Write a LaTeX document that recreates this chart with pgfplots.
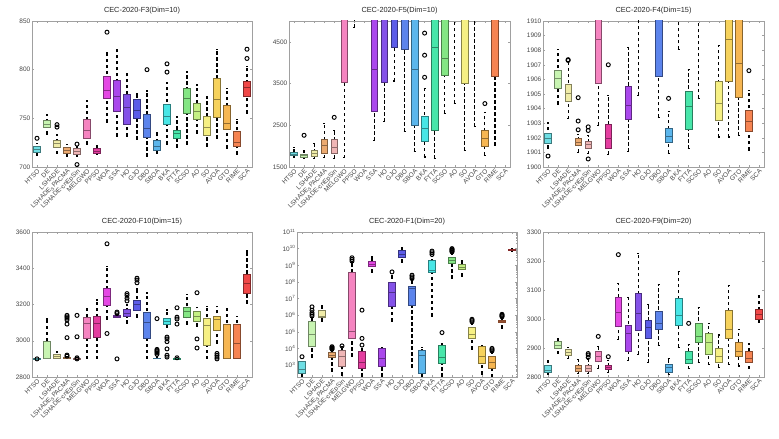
\documentclass[border=0pt]{standalone}
\usepackage{pgfplots}
\pgfplotsset{compat=1.18}
\usepackage{fontspec}
\setmainfont{Liberation Sans}
\definecolor{c1}{RGB}{110,222,228}
\definecolor{c2}{RGB}{200,244,178}
\definecolor{c3}{RGB}{240,236,168}
\definecolor{c4}{RGB}{236,170,112}
\definecolor{c5}{RGB}{240,182,182}
\definecolor{c6}{RGB}{245,132,192}
\definecolor{c7}{RGB}{228,62,160}
\definecolor{c8}{RGB}{228,72,228}
\definecolor{c9}{RGB}{170,72,236}
\definecolor{c10}{RGB}{132,82,232}
\definecolor{c11}{RGB}{92,92,232}
\definecolor{c12}{RGB}{92,132,236}
\definecolor{c13}{RGB}{92,182,236}
\definecolor{c14}{RGB}{72,230,230}
\definecolor{c15}{RGB}{72,230,170}
\definecolor{c16}{RGB}{132,230,132}
\definecolor{c17}{RGB}{196,240,132}
\definecolor{c18}{RGB}{246,240,132}
\definecolor{c19}{RGB}{246,210,92}
\definecolor{c20}{RGB}{246,182,82}
\definecolor{c21}{RGB}{246,132,82}
\definecolor{c22}{RGB}{240,72,72}
\definecolor{labgray}{RGB}{70,70,70}
\definecolor{axgray}{RGB}{160,160,160}
\newcommand{\tfont}{\fontsize{6.5}{7.5}\selectfont}
% \bx{position}{lower whisker}{lower quartile}{median}{upper quartile}{upper whisker}{colour}{outliers}
\newcommand{\bx}[8]{%
 \pgfmathsetmacro\xl{#1-0.33}\pgfmathsetmacro\xr{#1+0.33}%
 \pgfmathsetmacro\cl{#1-0.1}\pgfmathsetmacro\cr{#1+0.1}%
 \addplot[black, line width=1.2bp, dash pattern=on 3.3bp off 2.7bp, unbounded coords=jump]
   coordinates {(\cl,#2)(\cr,#2)(#1,nan)(#1,#2)(#1,#6)(#1,nan)(\cl,#6)(\cr,#6)};
 \addplot[draw=#7!55!black, fill=#7, line width=0.6bp]
   coordinates {(\xl,#3)(\xr,#3)(\xr,#5)(\xl,#5)} --cycle;
 \addplot[draw=#7!60!black, line width=0.5bp] coordinates {(\xl,#4)(\xr,#4)};
 \def\ol{}%
 \if\relax\detokenize{#8}\relax\else
   \foreach \v in {#8}{\xdef\ol{\ol(#1,\v)}}%
   \edef\tmp{\noexpand\addplot[only marks, mark=o, mark size=2bp, mark options={draw=black, fill=white, line width=0.95bp}] coordinates {\ol};}\tmp
 \fi}
\def\minorlist{}
\foreach \d in {2,...,10}{\foreach \f in {0.30103,0.47712,0.60206,0.69897,0.77815,0.84510,0.90309,0.95424}{\pgfmathsetmacro\v{\d+\f}\xdef\minorlist{\minorlist\v,}}}
\xdef\minorlist{\minorlist 11}
\pgfplotsset{panel/.style={scale only axis, anchor=south west,
 xmin=0.5, xmax=22.5, xtick={1,...,22},
 xticklabels={HTSO,DE,LSHADE,LSHADE\textsubscript{S}PACMA,LSHADE-cnEpSin,MELGWO,PPSO,WOA,SSA,HO,GJO,DBO,SBOA,BKA,FTTA,SCSO,AO,SO,AVOA,GTO,RIME,SCA},
 x tick label style={rotate=45, anchor=north east, font=\tfont, text=labgray, inner sep=1bp},
 y tick label style={font=\tfont, text=labgray, inner sep=1.5bp},
 tick align=inside, major tick length=2bp, minor tick length=1.2bp,
 axis line style={axgray, line width=0.5bp}, tick style={axgray, line width=0.4bp},
 title style={font=\fontsize{7.4}{8.5}\selectfont, text=black!85, yshift=-2.5bp},
 /pgf/number format/assume math mode=true,
 /pgf/number format/set thousands separator={},
 scaled y ticks=false}}
\begin{document}
\begin{tikzpicture}
\path[use as bounding box] (0,0) rectangle (779bp,439bp);
% Panel 1
\begin{axis}[panel, at={(32bp,272bp)}, width=220bp, height=146bp,
 ymin=700, ymax=850, ytick={700,750,800,850}, title={CEC-2020-F3(Dim=10)}]
\bx{1}{712}{715}{718}{721}{724}{c1}{729.5}
\bx{2}{734}{741}{744}{747.5}{754}{c2}{}
\bx{3}{713.5}{720}{724}{727}{733}{c3}{741,743.5}
\bx{4}{711}{714}{717}{720}{723.5}{c4}{}
\bx{5}{711}{713.5}{716}{719}{720.5}{c5}{723.5,702.5}
\bx{6}{723.5}{729.5}{737.5}{749}{768.5}{c6}{}
\bx{7}{712.5}{714.5}{716.5}{719}{721.5}{c7}{}
\bx{8}{746}{771}{779}{793.5}{818}{c8}{838.5}
\bx{9}{731.5}{757}{772.5}{789.5}{821}{c9}{}
\bx{10}{731.5}{744}{761}{775}{796}{c10}{}
\bx{11}{728}{750.5}{758.5}{769.5}{775.5}{c11}{}
\bx{12}{710.5}{731}{740}{754.5}{778.5}{c12}{800}
\bx{13}{713.5}{717}{721}{727}{735.5}{c13}{}
\bx{14}{723.5}{743.5}{752}{764.5}{787}{c14}{797.5,806}
\bx{15}{720}{729}{735}{738}{751.5}{c15}{}
\bx{16}{723}{755}{771}{781}{797.5}{c16}{}
\bx{17}{735}{748.5}{757}{765.5}{784.5}{c17}{}
\bx{18}{721}{732.5}{741}{752.5}{772}{c18}{}
\bx{19}{729}{751}{769.5}{791}{821}{c19}{}
\bx{20}{719.5}{739}{744.5}{763}{781}{c20}{}
\bx{21}{713}{721.5}{725.5}{737}{749}{c21}{}
\bx{22}{755}{772.5}{781.5}{788}{803}{c22}{811.5,821}
\end{axis}
% Panel 2
\begin{axis}[panel, at={(289bp,272bp)}, width=221bp, height=146bp,
 ymin=1500, ymax=5000, ytick={1500,2500,3500,4500}, title={CEC-2020-F5(Dim=10)}]
\bx{1}{1720}{1770}{1810}{1860}{1960}{c1}{}
\bx{2}{1700}{1740}{1780}{1810}{1900}{c2}{2260}
\bx{3}{1700}{1760}{1830}{1910}{2060}{c3}{}
\bx{4}{1720}{1840}{2030}{2170}{2550}{c4}{}
\bx{5}{1700}{1820}{1970}{2170}{2380}{c5}{2690}
\bx{6}{1720}{3530}{5600}{6500}{7000}{c6}{}
\bx{7}{4850}{5600}{6000}{6500}{7000}{c7}{}
\bx{8}{5500}{6000}{6500}{7000}{7500}{c8}{}
\bx{9}{2130}{2840}{3840}{5600}{6000}{c9}{}
\bx{10}{2590}{3520}{5200}{5600}{6000}{c10}{}
\bx{11}{3560}{4370}{5300}{5600}{6000}{c11}{}
\bx{12}{2350}{4320}{5300}{5600}{6000}{c12}{}
\bx{13}{1870}{2500}{3840}{5600}{6000}{c13}{}
\bx{14}{1740}{2110}{2420}{2710}{3390}{c14}{3650,4180,4710}
\bx{15}{1700}{2370}{4380}{5600}{6000}{c15}{}
\bx{16}{2790}{3710}{4110}{5600}{6000}{c16}{}
\bx{17}{3030}{5200}{5400}{5600}{6000}{c17}{}
\bx{18}{1890}{3500}{5200}{5600}{6000}{c18}{}
\bx{19}{2470}{5200}{5400}{5600}{6000}{c19}{}
\bx{20}{1780}{1990}{2200}{2370}{2810}{c20}{3020}
\bx{21}{2010}{3680}{5200}{5600}{6000}{c21}{}
\bx{22}{5500}{6000}{6500}{7000}{7500}{c22}{}
\end{axis}
% Panel 3
\begin{axis}[panel, at={(543bp,272bp)}, width=221bp, height=146bp,
 ymin=1900, ymax=1910, ytick={1900,1901,...,1910}, title={CEC-2020-F4(Dim=15)}]
\bx{1}{1901.3}{1901.65}{1902.0}{1902.3}{1903.05}{c1}{1900.75}
\bx{2}{1904.3}{1905.4}{1906.05}{1906.65}{1908.05}{c2}{}
\bx{3}{1903.3}{1904.5}{1905.05}{1905.65}{1907.2}{c3}{1907.3,1907.35}
\bx{4}{1901.0}{1901.5}{1901.7}{1901.95}{1902.2}{c4}{1902.55,1903.15,1904.75}
\bx{5}{1900.9}{1901.3}{1901.55}{1901.75}{1902.15}{c5}{1902.5,1902.75,1900.55}
\bx{6}{1902.85}{1905.75}{1908.75}{1911}{1912}{c6}{}
\bx{7}{1900.85}{1901.3}{1902.0}{1902.9}{1904.9}{c7}{1907.0}
\bx{8}{1911}{1912}{1913}{1914}{1915}{c8}{}
\bx{9}{1901.05}{1903.3}{1904.25}{1905.55}{1908.2}{c9}{}
\bx{10}{1904.9}{1911}{1912}{1913}{1914}{c10}{}
\bx{11}{1911}{1912}{1913}{1914}{1915}{c11}{}
\bx{12}{1903.4}{1906.2}{1911}{1912}{1913}{c12}{}
\bx{13}{1900.95}{1901.7}{1902.1}{1902.65}{1903.8}{c13}{1904.7}
\bx{14}{1908.05}{1911}{1912}{1913}{1914}{c14}{}
\bx{15}{1901.25}{1902.55}{1904.15}{1905.2}{1906.7}{c15}{}
\bx{16}{1904.7}{1911}{1912}{1913}{1914}{c16}{}
\bx{17}{1911}{1912}{1913}{1914}{1915}{c17}{}
\bx{18}{1902.05}{1903.2}{1904.35}{1905.85}{1908.3}{c18}{}
\bx{19}{1902.05}{1905.85}{1908.75}{1911}{1912}{c19}{}
\bx{20}{1902.15}{1904.75}{1907.1}{1911}{1912}{c20}{}
\bx{21}{1901.15}{1902.45}{1903.1}{1903.85}{1905.25}{c21}{1906.6}
\bx{22}{1911}{1912}{1913}{1914}{1915}{c22}{}
\end{axis}
% Panel 4
\begin{axis}[panel, at={(32bp,62bp)}, width=220bp, height=145bp,
 ymin=2800, ymax=3600, ytick={2800,3000,...,3600}, title={CEC-2020-F10(Dim=15)}]
\bx{1}{2899}{2899.5}{2900}{2900.5}{2901}{c1}{2900}
\bx{2}{2900}{2903}{2906}{2998}{3120}{c2}{}
\bx{3}{2900}{2904}{2915}{2925}{2940}{c3}{}
\bx{4}{2900}{2901}{2903}{2906}{2910}{c4}{2915,2921,3017,3092,3115,3125,3132,3140}
\bx{5}{2899}{2900}{2902}{2904}{2906}{c5}{2900,2906,3022,3140}
\bx{6}{2900}{3015}{3095}{3130}{3175}{c6}{}
\bx{7}{2900}{3020}{3095}{3135}{3225}{c7}{}
\bx{8}{3120}{3195}{3245}{3290}{3410}{c8}{3040,3535}
\bx{9}{3128}{3132}{3136}{3140}{3145}{c9}{3150,3158,2900}
\bx{10}{3095}{3135}{3150}{3175}{3200}{c10}{3220,3235,3250,3260}
\bx{11}{3130}{3170}{3200}{3225}{3285}{c11}{3320,3335,3345}
\bx{12}{2900}{3015}{3100}{3155}{3265}{c12}{}
\bx{13}{2900}{2901}{2902}{2904}{2910}{c13}{2925,2933,2940,2946,2952,3122}
\bx{14}{3075}{3090}{3110}{3122}{3170}{c14}{2910,2920,2955,2995,3010,3020}
\bx{15}{2899}{2900}{2902}{2904}{2906}{c15}{2906,3092,3120,3130,3182}
\bx{16}{3090}{3130}{3165}{3185}{3255}{c16}{}
\bx{17}{3080}{3110}{3135}{3160}{3185}{c17}{2960,3010,3265}
\bx{18}{2900}{2975}{3085}{3125}{3190}{c18}{}
\bx{19}{2985}{3060}{3120}{3135}{3190}{c19}{2900,2910,2920,2930}
\bx{20}{2900}{2901}{2903}{3090}{3175}{c20}{}
\bx{21}{2900}{2905}{2985}{3090}{3135}{c21}{}
\bx{22}{3205}{3260}{3320}{3365}{3495}{c22}{}
\end{axis}
% Panel 5 (values are log10 of the objective)
\begin{axis}[panel, at={(297bp,62bp)}, width=220bp, height=145bp,
 ymin=2.28, ymax=11, ytick={3,...,11},
 yticklabels={10\textsuperscript{3},10\textsuperscript{4},10\textsuperscript{5},10\textsuperscript{6},10\textsuperscript{7},10\textsuperscript{8},10\textsuperscript{9},10\textsuperscript{10},10\textsuperscript{11}},
 minor ytick/.expanded={\minorlist}, title={CEC-2020-F1(Dim=20)}]
\bx{1}{2.28}{2.52}{2.75}{3.22}{3.4}{c1}{3.5}
\bx{2}{3.45}{4.1}{4.85}{5.65}{5.85}{c2}{5.95,6.05,6.15,6.3,6.5}
\bx{3}{5.65}{5.85}{5.95}{6.3}{6.6}{c3}{}
\bx{4}{2.6}{3.45}{3.6}{3.75}{3.9}{c4}{3.95,4.0,4.05,4.1}
\bx{5}{2.4}{2.92}{3.5}{3.9}{4.1}{c5}{4.15}
\bx{6}{3.5}{4.6}{5.05}{8.6}{9.2}{c6}{9.25,9.35,9.45}
\bx{7}{2.3}{2.8}{3.15}{3.8}{4.0}{c7}{4.2,4.6,6.3}
\bx{8}{8.55}{8.92}{9.08}{9.22}{9.5}{c8}{}
\bx{9}{2.3}{2.95}{3.4}{4.0}{4.05}{c9}{}
\bx{10}{5.65}{6.55}{7.4}{8.0}{8.4}{c10}{8.6}
\bx{11}{9.15}{9.5}{9.68}{9.88}{10.05}{c11}{}
\bx{12}{2.85}{6.6}{7.6}{7.75}{8.15}{c12}{8.2,8.3,8.4}
\bx{13}{2.3}{2.5}{3.6}{3.9}{4.05}{c13}{}
\bx{14}{5.95}{8.6}{8.68}{9.3}{9.55}{c14}{9.65,9.75,9.85}
\bx{15}{2.3}{3.08}{3.45}{4.2}{4.3}{c15}{4.95}
\bx{16}{8.2}{9.1}{9.3}{9.45}{9.75}{c16}{9.8,9.85,9.9,9.95,10.0}
\bx{17}{8.35}{8.75}{8.9}{9.05}{9.3}{c17}{}
\bx{18}{3.95}{4.6}{4.85}{5.25}{5.5}{c18}{5.6,5.68,5.75}
\bx{19}{2.45}{3.1}{3.5}{4.1}{4.15}{c19}{}
\bx{20}{2.28}{2.8}{3.15}{3.5}{3.75}{c20}{3.85,3.92,4.0}
\bx{21}{5.2}{5.55}{5.62}{5.7}{5.85}{c21}{5.9,5.95,6.0,6.05}
\bx{22}{9.85}{9.9}{9.95}{9.98}{10.02}{c22}{}
\end{axis}
% Panel 6
\begin{axis}[panel, at={(543bp,62bp)}, width=221bp, height=145bp,
 ymin=2800, ymax=3300, ytick={2800,2900,...,3300}, title={CEC-2020-F9(Dim=20)}]
\bx{1}{2808}{2815}{2825}{2840}{2855}{c1}{}
\bx{2}{2880}{2900}{2910}{2922}{2932}{c2}{}
\bx{3}{2865}{2875}{2885}{2895}{2902}{c3}{}
\bx{4}{2812}{2820}{2830}{2842}{2860}{c4}{}
\bx{5}{2812}{2820}{2830}{2842}{2862}{c5}{2868,2876,2881}
\bx{6}{2830}{2855}{2870}{2890}{2905}{c6}{2940}
\bx{7}{2815}{2825}{2835}{2842}{2858}{c7}{2870}
\bx{8}{2930}{2975}{3022}{3075}{3122}{c8}{3222}
\bx{9}{2858}{2888}{2950}{2980}{3075}{c9}{}
\bx{10}{2878}{2962}{3020}{3088}{3225}{c10}{}
\bx{11}{2850}{2932}{2970}{2995}{3050}{c11}{}
\bx{12}{2908}{2965}{2985}{3028}{3118}{c12}{}
\bx{13}{2808}{2815}{2832}{2845}{2865}{c13}{}
\bx{14}{2902}{2977}{3012}{3070}{3165}{c14}{}
\bx{15}{2828}{2848}{2862}{2887}{2912}{c15}{2985}
\bx{16}{2850}{2920}{2940}{2985}{3040}{c16}{}
\bx{17}{2842}{2880}{2920}{2950}{2985}{c17}{}
\bx{18}{2832}{2850}{2872}{2900}{2945}{c18}{}
\bx{19}{2842}{2935}{2965}{3030}{3115}{c19}{}
\bx{20}{2838}{2870}{2888}{2920}{2965}{c20}{}
\bx{21}{2828}{2850}{2865}{2888}{2915}{c21}{}
\bx{22}{2988}{2998}{3015}{3035}{3080}{c22}{}
\end{axis}
\end{tikzpicture}
\end{document}
